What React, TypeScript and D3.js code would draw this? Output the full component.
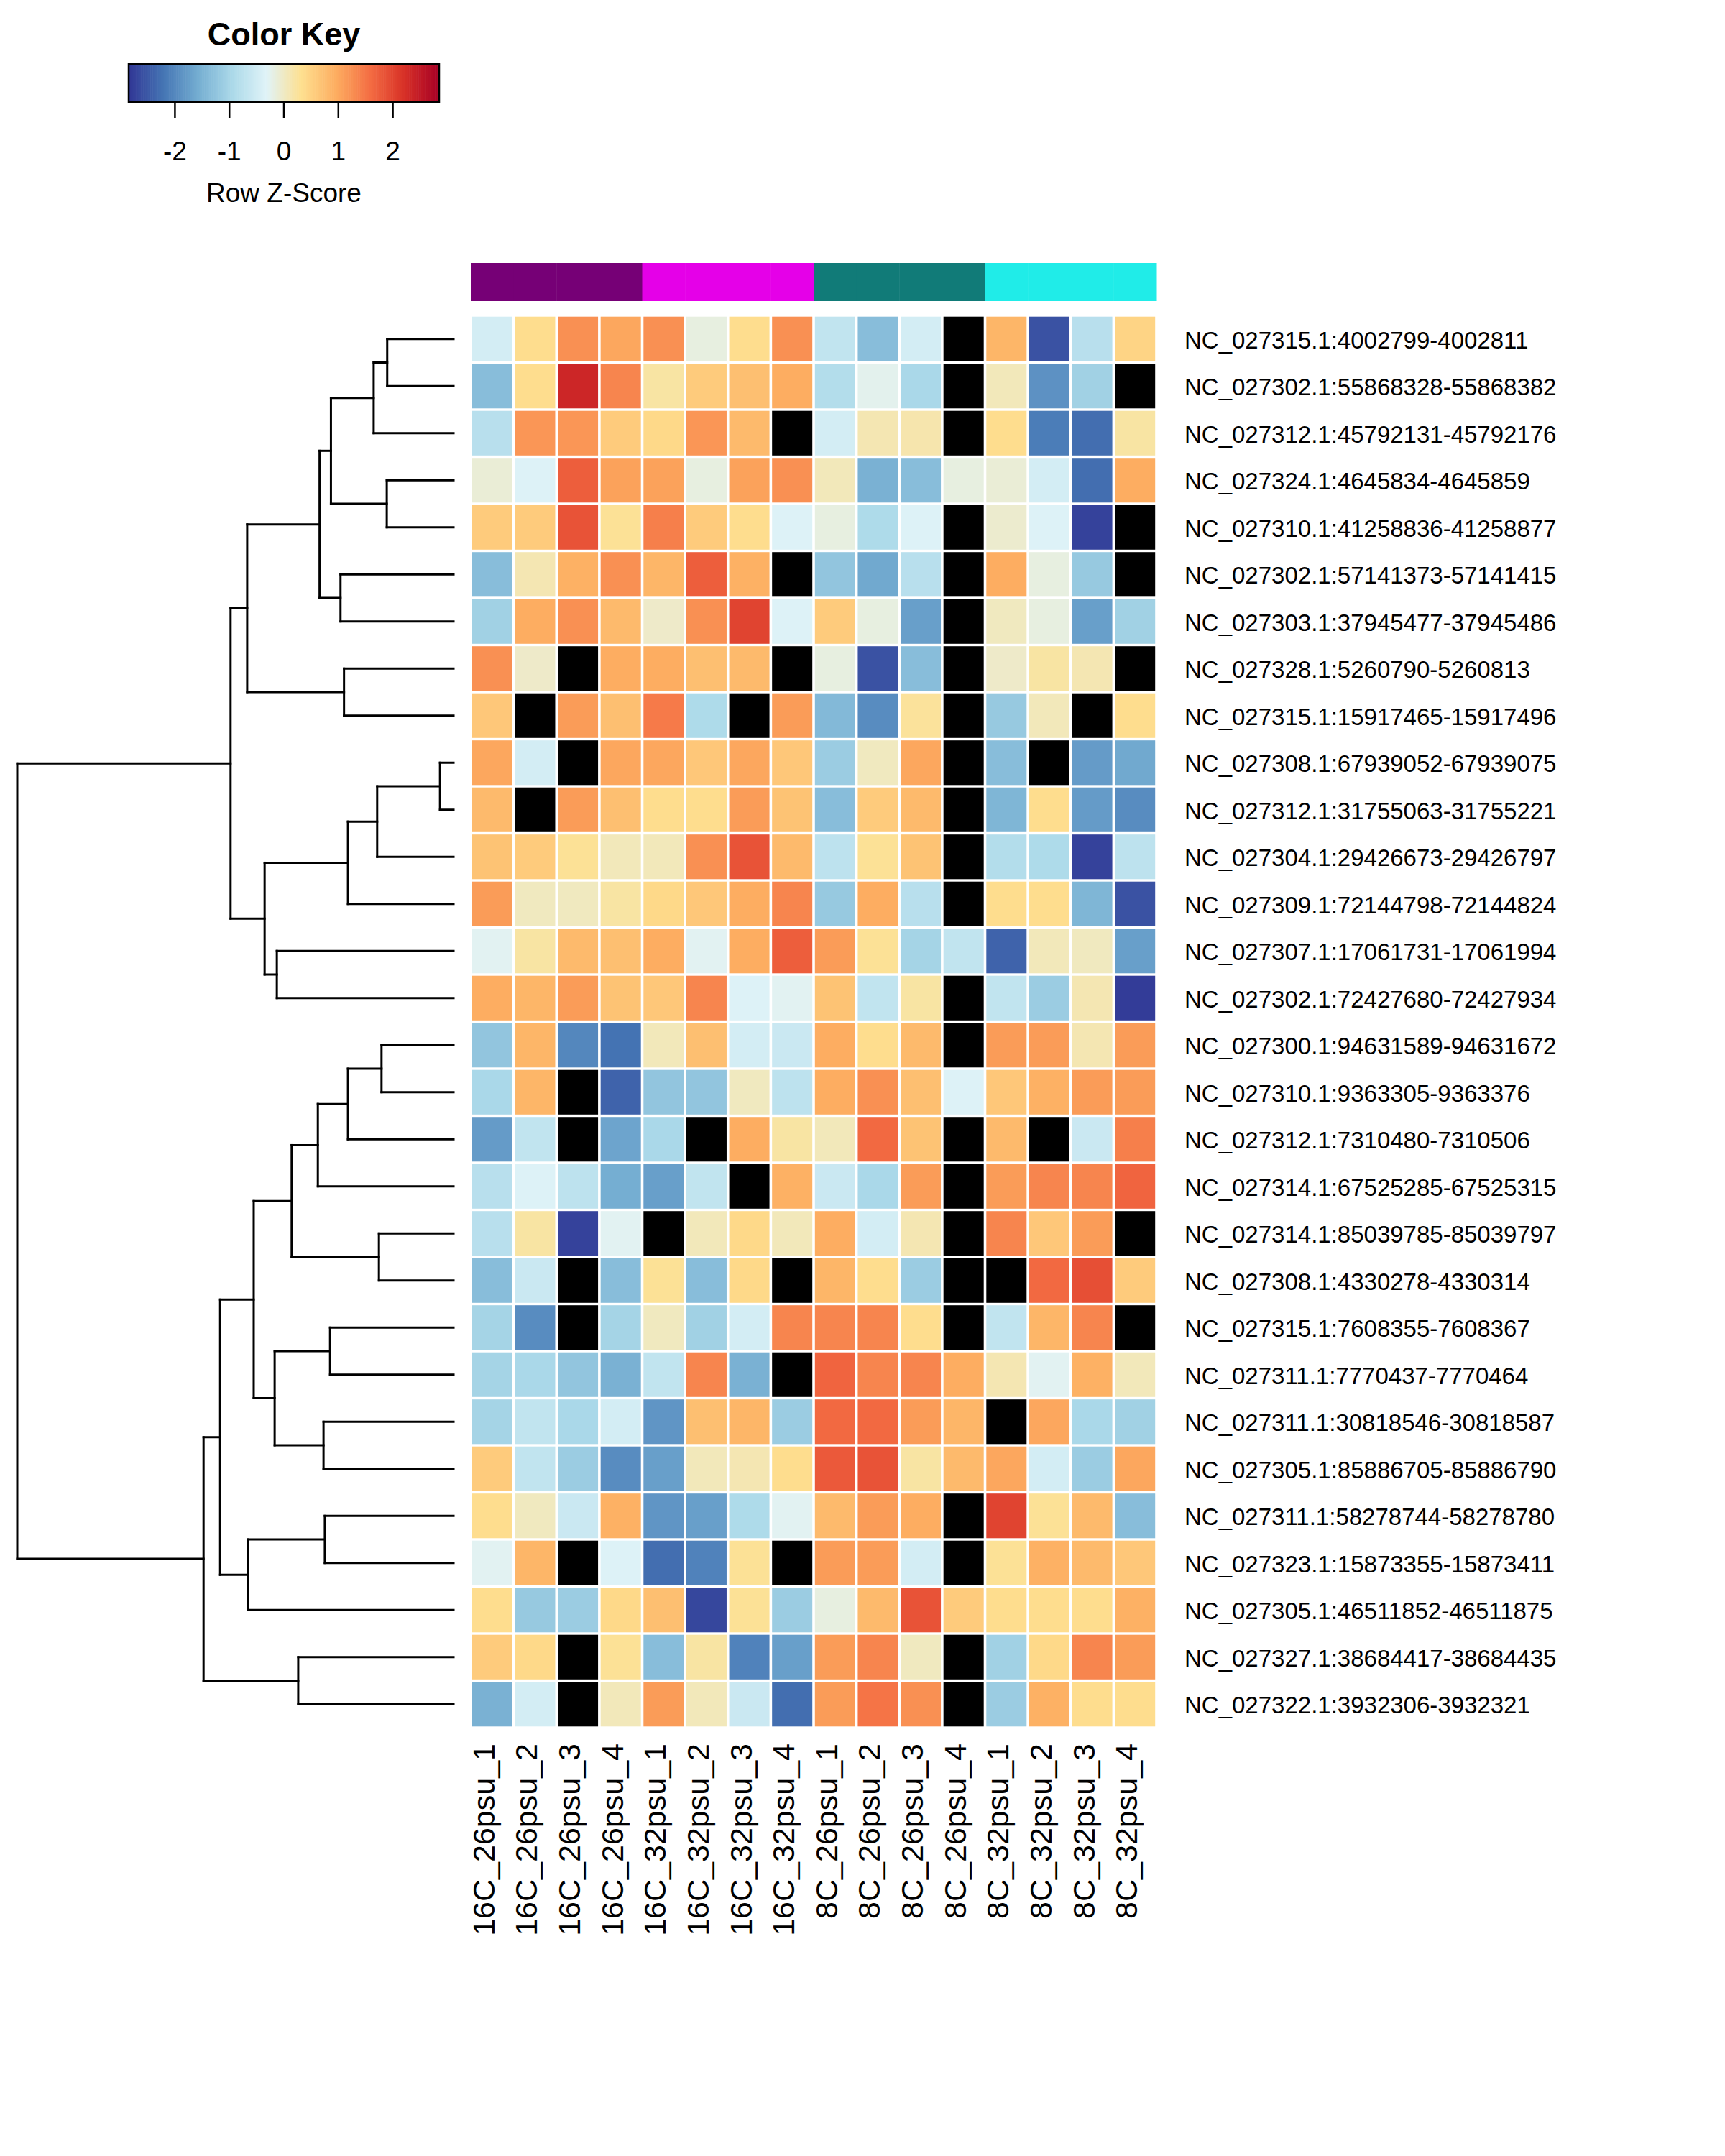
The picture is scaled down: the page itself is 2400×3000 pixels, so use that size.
import { useEffect, useRef } from 'react';
import * as d3 from 'd3';

const WIDTH = 2400;
const HEIGHT = 3000;
const FONT = '"Liberation Sans", Arial, Helvetica, sans-serif';

const rowLabels = [
  'NC_027315.1:4002799-4002811',
  'NC_027302.1:55868328-55868382',
  'NC_027312.1:45792131-45792176',
  'NC_027324.1:4645834-4645859',
  'NC_027310.1:41258836-41258877',
  'NC_027302.1:57141373-57141415',
  'NC_027303.1:37945477-37945486',
  'NC_027328.1:5260790-5260813',
  'NC_027315.1:15917465-15917496',
  'NC_027308.1:67939052-67939075',
  'NC_027312.1:31755063-31755221',
  'NC_027304.1:29426673-29426797',
  'NC_027309.1:72144798-72144824',
  'NC_027307.1:17061731-17061994',
  'NC_027302.1:72427680-72427934',
  'NC_027300.1:94631589-94631672',
  'NC_027310.1:9363305-9363376',
  'NC_027312.1:7310480-7310506',
  'NC_027314.1:67525285-67525315',
  'NC_027314.1:85039785-85039797',
  'NC_027308.1:4330278-4330314',
  'NC_027315.1:7608355-7608367',
  'NC_027311.1:7770437-7770464',
  'NC_027311.1:30818546-30818587',
  'NC_027305.1:85886705-85886790',
  'NC_027311.1:58278744-58278780',
  'NC_027323.1:15873355-15873411',
  'NC_027305.1:46511852-46511875',
  'NC_027327.1:38684417-38684435',
  'NC_027322.1:3932306-3932321',
];

const colLabels = [
  '16C_26psu_1', '16C_26psu_2', '16C_26psu_3', '16C_26psu_4',
  '16C_32psu_1', '16C_32psu_2', '16C_32psu_3', '16C_32psu_4',
  '8C_26psu_1', '8C_26psu_2', '8C_26psu_3', '8C_26psu_4',
  '8C_32psu_1', '8C_32psu_2', '8C_32psu_3', '8C_32psu_4',
];

// colonne -> groupe (barre de couleur au-dessus)
const colGroups = [0, 0, 0, 0, 1, 1, 1, 1, 2, 2, 2, 2, 3, 3, 3, 3];
const groupColors = ['#760076', '#e500e8', '#117b78', '#20ece8'];

// row z-scores, null = NA (noir)
const zScores: (number | null)[][] = [
  [-0.47, 0.35, 1.24, 1.02, 1.24, -0.17, 0.35, 1.24, -0.69, -1.35, -0.47, null, 0.85, -2.57, -0.8, 0.47],
  [-1.35, 0.35, 2.35, 1.35, 0.2, 0.58, 0.74, 0.96, -0.85, -0.25, -0.96, null, 0.06, -1.9, -1.07, null],
  [-0.8, 1.18, 1.18, 0.58, 0.41, 1.18, 0.8, null, -0.47, 0.11, 0.14, null, 0.35, -2.13, -2.29, 0.2],
  [-0.11, -0.35, 1.74, 1.07, 1.07, -0.17, 1.07, 1.24, 0.06, -1.52, -1.35, -0.17, -0.11, -0.47, -2.29, 0.96],
  [0.58, 0.58, 1.85, 0.28, 1.41, 0.58, 0.35, -0.35, -0.17, -0.91, -0.35, null, -0.06, -0.35, -2.73, null],
  [-1.35, 0.11, 0.91, 1.24, 0.85, 1.74, 0.91, null, -1.24, -1.63, -0.8, null, 0.96, -0.17, -1.18, null],
  [-1.07, 0.96, 1.24, 0.8, -0.03, 1.24, 2.01, -0.35, 0.58, -0.17, -1.74, null, 0.03, -0.17, -1.74, -1.07],
  [1.24, -0.03, null, 0.96, 0.96, 0.74, 0.8, null, -0.17, -2.57, -1.35, null, -0.03, 0.2, 0.11, null],
  [0.63, null, 1.13, 0.74, 1.46, -0.91, null, 1.13, -1.41, -1.96, 0.25, null, -1.18, 0.06, null, 0.35],
  [1.02, -0.47, null, 1.02, 1.02, 0.63, 1.02, 0.63, -1.13, 0.03, 1.02, null, -1.35, null, -1.79, -1.63],
  [0.8, null, 1.13, 0.74, 0.35, 0.35, 1.13, 0.69, -1.35, 0.58, 0.8, null, -1.46, 0.35, -1.79, -1.96],
  [0.69, 0.58, 0.28, 0.06, 0.06, 1.24, 1.85, 0.8, -0.74, 0.28, 0.69, null, -0.85, -0.91, -2.73, -0.74],
  [1.13, 0.03, 0.03, 0.2, 0.41, 0.63, 0.96, 1.35, -1.18, 0.96, -0.8, null, 0.35, 0.35, -1.46, -2.57],
  [-0.28, 0.2, 0.8, 0.74, 0.96, -0.28, 0.96, 1.74, 1.13, 0.28, -1.02, -0.69, -2.4, 0.06, 0.03, -1.74],
  [0.96, 0.85, 1.13, 0.69, 0.63, 1.35, -0.35, -0.28, 0.69, -0.69, 0.2, null, -0.69, -1.13, 0.11, -2.79],
  [-1.24, 0.85, -2.01, -2.24, 0.06, 0.74, -0.47, -0.58, 0.96, 0.35, 0.8, null, 1.13, 1.13, 0.11, 1.13],
  [-0.96, 0.85, null, -2.4, -1.24, -1.24, 0.03, -0.74, 0.96, 1.24, 0.74, -0.35, 0.63, 0.91, 1.13, 1.13],
  [-1.79, -0.69, null, -1.68, -0.96, null, 0.96, 0.2, 0.06, 1.63, 0.69, null, 0.8, null, -0.58, 1.41],
  [-0.8, -0.35, -0.74, -1.57, -1.74, -0.69, null, 0.91, -0.58, -0.96, 1.13, null, 1.13, 1.35, 1.35, 1.68],
  [-0.8, 0.2, -2.73, -0.28, null, 0.06, 0.41, 0.06, 0.96, -0.47, 0.11, null, 1.35, 0.63, 1.13, null],
  [-1.35, -0.58, null, -1.35, 0.28, -1.35, 0.41, null, 0.85, 0.35, -1.13, null, null, 1.63, 1.9, 0.58],
  [-1.02, -1.96, null, -1.02, 0.03, -1.07, -0.47, 1.35, 1.35, 1.35, 0.35, null, -0.69, 0.85, 1.35, null],
  [-1.02, -0.96, -1.24, -1.52, -0.69, 1.35, -1.52, null, 1.68, 1.35, 1.35, 0.96, 0.11, -0.28, 0.91, 0.06],
  [-1.02, -0.69, -0.96, -0.47, -1.85, 0.74, 0.85, -1.13, 1.63, 1.63, 1.13, 0.85, null, 1.02, -0.96, -1.07],
  [0.58, -0.69, -1.13, -1.96, -1.74, 0.06, 0.11, 0.35, 1.79, 1.85, 0.2, 0.8, 1.02, -0.47, -1.13, 1.02],
  [0.35, 0.03, -0.58, 0.91, -1.85, -1.74, -0.91, -0.28, 0.8, 1.13, 0.96, null, 2.01, 0.28, 0.8, -1.35],
  [-0.28, 0.85, null, -0.35, -2.29, -2.07, 0.28, null, 1.13, 1.13, -0.47, null, 0.28, 0.91, 0.8, 0.63],
  [0.35, -1.18, -1.13, 0.41, 0.74, -2.68, 0.28, -1.13, -0.17, 0.8, 1.85, 0.58, 0.35, 0.35, 0.35, 0.91],
  [0.58, 0.41, null, 0.28, -1.35, 0.2, -2.07, -1.74, 1.13, 1.35, 0.03, null, -1.07, 0.41, 1.35, 1.13],
  [-1.52, -0.47, null, 0.06, 1.13, 0.06, -0.58, -2.29, 1.13, 1.52, 1.24, null, -1.13, 0.91, 0.35, 0.35],
];

// dendrogramme des lignes : [hauteur, gauche, droite], feuilles = index de ligne
type Tree = number | [number, Tree, Tree];
const rowTree: Tree = [10.0,
  [5.11,
    [4.73,
      [3.07,
        [2.81, [1.83, [1.52, 0, 1], 2], [1.53, 3, 4]],
        [2.59, 5, 6]],
      [2.51, 7, 8]],
    [4.33,
      [2.42, [1.75, [0.31, 9, 10], 11], 12],
      [4.05, 13, 14]]],
  [5.73,
    [5.35,
      [4.58,
        [3.71,
          [3.11, [2.42, [1.65, 15, 16], 17], 18],
          [1.71, 19, 20]],
        [4.10, [2.83, 21, 22], [2.98, 23, 24]]],
      [4.71, [2.95, 25, 26], 27]],
    [3.56, 28, 29]]];

const keyTicks = [-2, -1, 0, 1, 2];
const Z_MAX = 2.85;
// RdYlBu 10 classes, inversé
const PALETTE = ['#313695', '#4575b4', '#74add1', '#abd9e9', '#e0f3f8',
  '#fee090', '#fdae61', '#f46d43', '#d73027', '#a50026'];

export default function App() {
  const svgRef = useRef<SVGSVGElement>(null);

  useEffect(() => {
    if (!svgRef.current) return;
    const svg = d3.select(svgRef.current);
    svg.selectAll('*').remove();

    svg.append('rect').attr('width', WIDTH).attr('height', HEIGHT).attr('fill', '#fff');

    const color = d3.scaleLinear<string>()
      .domain(PALETTE.map((_, i) => -Z_MAX + (i * 2 * Z_MAX) / (PALETTE.length - 1)))
      .range(PALETTE)
      .interpolate(d3.interpolateRgb)
      .clamp(true);

    // zone de la heatmap
    const left = 655, right = 1609, top = 439, bottom = 2404;
    const x = d3.scaleBand<number>().domain(d3.range(colLabels.length)).range([left, right]);
    const y = d3.scaleBand<number>().domain(d3.range(rowLabels.length)).range([top, bottom]);

    // Color key
    const key = svg.append('g');
    const kx = d3.scaleLinear().domain([-Z_MAX, Z_MAX]).range([179, 611]);
    const kTop = 89, kBottom = 142;
    const nSteps = 300;
    const stepW = (2 * Z_MAX) / nSteps;
    const steps = d3.range(nSteps).map(i => -Z_MAX + i * stepW);
    key.selectAll('rect.k')
      .data(steps)
      .join('rect')
      .attr('class', 'k')
      .attr('x', d => kx(d))
      .attr('y', kTop)
      .attr('width', kx(-Z_MAX + stepW) - kx(-Z_MAX) + 0.6)
      .attr('height', kBottom - kTop)
      .attr('fill', d => color(d + stepW / 2));
    key.append('rect')
      .attr('x', kx(-Z_MAX)).attr('y', kTop)
      .attr('width', kx(Z_MAX) - kx(-Z_MAX)).attr('height', kBottom - kTop)
      .attr('fill', 'none').attr('stroke', '#000').attr('stroke-width', 2.5);
    key.selectAll('line.tick')
      .data(keyTicks)
      .join('line')
      .attr('class', 'tick')
      .attr('x1', d => kx(d)).attr('x2', d => kx(d))
      .attr('y1', kBottom).attr('y2', kBottom + 22)
      .attr('stroke', '#000').attr('stroke-width', 2.5);
    key.selectAll('text.tl')
      .data(keyTicks)
      .join('text')
      .attr('class', 'tl')
      .attr('x', d => kx(d))
      .attr('y', 223)
      .attr('text-anchor', 'middle')
      .attr('font-family', FONT)
      .attr('font-size', 37)
      .text(d => String(d));
    key.append('text')
      .attr('x', kx(0)).attr('y', 281)
      .attr('text-anchor', 'middle')
      .attr('font-family', FONT)
      .attr('font-size', 37)
      .text('Row Z-Score');
    key.append('text')
      .attr('x', kx(0)).attr('y', 63)
      .attr('text-anchor', 'middle')
      .attr('font-family', FONT)
      .attr('font-size', 45)
      .attr('font-weight', 'bold')
      .text('Color Key');

    // barre des groupes de colonnes
    svg.append('g')
      .selectAll('rect')
      .data(colGroups)
      .join('rect')
      .attr('x', (_, i) => x(i)!)
      .attr('y', 366)
      .attr('width', x.bandwidth() + 0.5)
      .attr('height', 53)
      .attr('fill', g => groupColors[g]);

    // cellules
    const cells = zScores.flatMap((row, r) => row.map((v, c) => ({ r, c, v })));
    svg.append('g')
      .selectAll('rect')
      .data(cells)
      .join('rect')
      .attr('x', d => x(d.c)! + 1.8)
      .attr('y', d => y(d.r)! + 1.7)
      .attr('width', x.bandwidth() - 3.6)
      .attr('height', y.bandwidth() - 3.4)
      .attr('fill', d => (d.v === null ? '#000' : color(d.v)));

    // étiquettes des lignes
    svg.append('g')
      .selectAll('text')
      .data(rowLabels)
      .join('text')
      .attr('x', 1648)
      .attr('y', (_, i) => y(i)! + y.bandwidth() / 2 + 13)
      .attr('font-family', FONT)
      .attr('font-size', 33)
      .text(d => d);

    // étiquettes des colonnes (verticales)
    svg.append('g')
      .selectAll('text')
      .data(colLabels)
      .join('text')
      .attr('transform', (_, i) => `translate(${x(i)! + x.bandwidth() / 2 + 3},2426) rotate(-90)`)
      .attr('text-anchor', 'end')
      .attr('font-family', FONT)
      .attr('font-size', 43)
      .text(d => d);

    // dendrogramme
    const hx = d3.scaleLinear().domain([0, 10]).range([631, 24]);
    const dendro = svg.append('g')
      .attr('stroke', '#000')
      .attr('stroke-width', 3)
      .attr('fill', 'none')
      .attr('stroke-linecap', 'square');

    function draw(node: Tree): { px: number; py: number } {
      if (typeof node === 'number') {
        return { px: hx(0), py: y(node)! + y.bandwidth() / 2 };
      }
      const [h, l, r] = node;
      const a = draw(l);
      const b = draw(r);
      const nx = hx(h);
      dendro.append('line').attr('x1', nx).attr('x2', nx).attr('y1', a.py).attr('y2', b.py);
      dendro.append('line').attr('x1', nx).attr('x2', a.px).attr('y1', a.py).attr('y2', a.py);
      dendro.append('line').attr('x1', nx).attr('x2', b.px).attr('y1', b.py).attr('y2', b.py);
      return { px: nx, py: (a.py + b.py) / 2 };
    }
    draw(rowTree);
  }, []);

  return (
    <svg
      ref={svgRef}
      width={WIDTH}
      height={HEIGHT}
      style={{ position: 'absolute', left: 0, top: 0, display: 'block' }}
    />
  );
}
